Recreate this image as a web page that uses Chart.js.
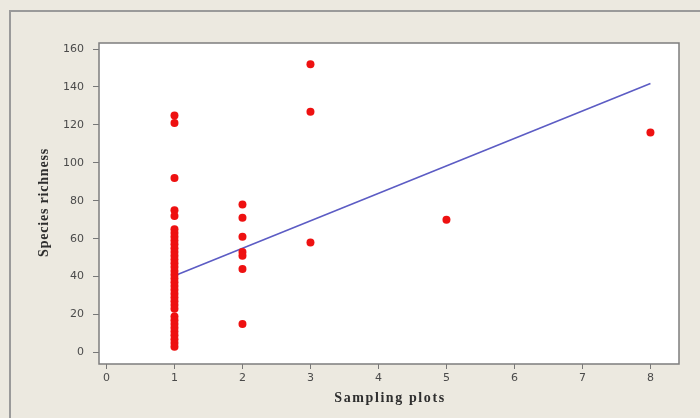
<!DOCTYPE html>
<html>
<head>
<meta charset="utf-8">
<script src="https://cdn.jsdelivr.net/npm/chart.js@4.4.1/dist/chart.umd.min.js"></script>
<style>
  html, body { margin: 0; padding: 0; background: #ece9e0; }
  #wrap { width: 700px; height: 418px; }
</style>
</head>
<body>
<div id="wrap"><canvas id="grafico"></canvas></div>
<script>
// number of sampling plots per site (x) and species richness (y)
const plots1 = [1, 1, 1, 1, 1, 1, 1, 1, 1, 1, 1, 1, 1, 1, 1, 1, 1, 1, 1, 1, 1, 1, 1, 1, 1, 1, 1, 1, 1, 1, 1, 1, 1, 1, 1, 1];
const richness1 = [125, 121, 92, 75, 72, 65, 63, 61, 59, 57, 55, 53, 51, 49, 47, 45, 43, 41, 39, 37, 35, 33, 31, 29, 27, 25, 23, 19, 17, 15, 13, 11, 9, 7, 5, 3];
const plotsOther = [2, 2, 2, 2, 2, 2, 2, 3, 3, 3, 5, 8];
const richnessOther = [78, 71, 61, 53, 51, 44, 15, 152, 127, 58, 70, 116];

// fitted regression line end points
const fitX = [1, 8];
const fitY = [40.4, 141.8];

const xTicks = [0, 1, 2, 3, 4, 5, 6, 7, 8];
const yTicks = [0, 20, 40, 60, 80, 100, 120, 140, 160];

const plotsAll = plots1.concat(plotsOther);
const richnessAll = richness1.concat(richnessOther);
const pontos = plotsAll.map((x, i) => ({ x: x, y: richnessAll[i] }));
const linha = fitX.map((x, i) => ({ x: x, y: fitY[i] }));

// fundo, moldura e titulos dos eixos
const moldura = {
    id: "moldura",
    beforeDraw(chart) {
        const ctx = chart.ctx;
        ctx.save();
        ctx.fillStyle = "#ece9e0";
        ctx.fillRect(0, 0, chart.width, chart.height);
        ctx.strokeStyle = "#9a9a9a";
        ctx.lineWidth = 2;
        ctx.beginPath();
        ctx.moveTo(10, chart.height + 5);
        ctx.lineTo(10, 11);
        ctx.lineTo(chart.width + 5, 11);
        ctx.stroke();
        const a = chart.chartArea;
        ctx.fillStyle = "#ffffff";
        ctx.fillRect(a.left, a.top, a.right - a.left, a.bottom - a.top);
        ctx.restore();
    },
    afterDraw(chart) {
        const ctx = chart.ctx;
        const a = chart.chartArea;
        ctx.save();
        ctx.strokeStyle = "#7d7d7d";
        ctx.lineWidth = 1.5;
        ctx.strokeRect(a.left, a.top, a.right - a.left, a.bottom - a.top);
        ctx.fillStyle = "#2e2e2e";
        ctx.font = "bold 14px 'Liberation Serif'";
        ctx.textAlign = "center";
        ctx.textBaseline = "middle";
        ctx.letterSpacing = "1.6px";
        ctx.fillText("Sampling plots", (a.left + a.right) / 2 + 1, 398);
        ctx.letterSpacing = "0.8px";
        ctx.translate(44, (a.top + a.bottom) / 2);
        ctx.rotate(-Math.PI / 2);
        ctx.fillText("Species richness", 1, 0);
        ctx.restore();
    },
};

const tickFont = { family: "DejaVu Sans", size: 11 };

new Chart(document.getElementById("grafico"), {
    type: "scatter",
    data: {
        datasets: [
            {
                type: "line",
                data: linha,
                borderColor: "#5c5cc4",
                borderWidth: 1.6,
                pointRadius: 0,
                fill: false,
                order: 2,
            },
            {
                data: pontos,
                backgroundColor: "#ee1111",
                borderColor: "#ee1111",
                borderWidth: 0,
                pointRadius: 4,
                pointStyle: "circle",
                order: 1,
            },
        ],
    },
    plugins: [moldura],
    options: {
        responsive: true,
        maintainAspectRatio: false,
        animation: false,
        layout: { padding: { top: 43, right: 21, left: 0, bottom: 0 } },
        plugins: {
            legend: { display: false },
            tooltip: { enabled: false },
        },
        scales: {
            x: {
                type: "linear",
                min: -0.11,
                max: 8.42,
                afterFit(scale) {
                    scale.height = 54;
                },
                afterBuildTicks(scale) {
                    scale.ticks = xTicks.map((v) => ({ value: v }));
                },
                ticks: { color: "#4a4a4a", font: tickFont, padding: 3 },
                grid: {
                    drawOnChartArea: false,
                    drawTicks: true,
                    tickLength: 5,
                    color: "#777777",
                },
                border: { display: false },
            },
            y: {
                type: "linear",
                min: -6.1,
                max: 163.2,
                afterFit(scale) {
                    scale.width = 99;
                },
                afterBuildTicks(scale) {
                    scale.ticks = yTicks.map((v) => ({ value: v }));
                },
                ticks: { color: "#4a4a4a", font: tickFont, padding: 9 },
                grid: {
                    drawOnChartArea: false,
                    drawTicks: true,
                    tickLength: 6,
                    color: "#777777",
                },
                border: { display: false },
            },
        },
    },
});
</script>
</body>
</html>
